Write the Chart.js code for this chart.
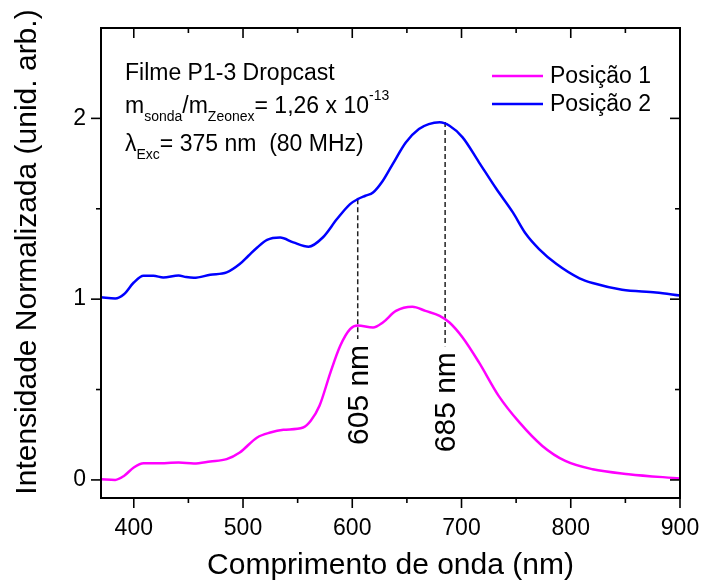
<!DOCTYPE html>
<html>
<head>
<meta charset="utf-8">
<script src="https://cdn.jsdelivr.net/npm/chart.js@4.4.0/dist/chart.umd.min.js"></script>
<style>
  html, body { margin: 0; padding: 0; background: #fff; }
</style>
</head>
<body>
<canvas id="myChart" width="702" height="581"></canvas>
<script>
const FONT = "'Liberation Sans', Arial, sans-serif"

// Posição 1 - wavelength (nm) / normalised intensity
const wl1 = [370, 383, 391, 400, 409, 421, 441, 455, 470, 485, 497, 513, 525, 537, 555, 562, 570, 580, 589, 598, 605, 619, 628, 640, 655, 667, 680, 689, 701, 716, 734, 753, 774, 795, 820, 853, 900]
const pos1 = [0.004, 0, 0.022, 0.069, 0.092, 0.092, 0.096, 0.091, 0.102, 0.115, 0.152, 0.235, 0.262, 0.277, 0.29, 0.327, 0.41, 0.594, 0.742, 0.834, 0.854, 0.843, 0.871, 0.935, 0.958, 0.935, 0.908, 0.871, 0.788, 0.65, 0.465, 0.318, 0.188, 0.105, 0.059, 0.032, 0.008]

// Posição 2 (shifted up by 1)
const wl2 = [370, 383, 391, 400, 409, 418, 427, 441, 448, 455, 470, 485, 497, 505, 513, 522, 534, 546, 560, 573, 586, 598, 605, 612, 619, 628, 637, 649, 661, 670, 680, 689, 701, 716, 732, 747, 759, 771, 787, 808, 820, 847, 878, 900]
const pos2 = [1.01, 1.004, 1.027, 1.092, 1.129, 1.129, 1.12, 1.131, 1.122, 1.118, 1.135, 1.148, 1.194, 1.24, 1.286, 1.328, 1.341, 1.314, 1.29, 1.341, 1.443, 1.526, 1.553, 1.572, 1.59, 1.655, 1.747, 1.867, 1.941, 1.968, 1.978, 1.959, 1.895, 1.757, 1.609, 1.48, 1.36, 1.277, 1.194, 1.115, 1.089, 1.052, 1.037, 1.02]

const xTicks = [400, 450, 500, 550, 600, 650, 700, 750, 800, 850, 900]
const yTicks = [0, 0.5, 1, 1.5, 2]

// marked peaks
const peaks = [605, 685]
const peakLabels = ["605 nm", "685 nm"]
const peakTop = [1.553, 1.98]
const peakBottom = [0.78, 0.74]

function toPoints(xs, ys) {
  return xs.map((x, i) => ({ x: x, y: ys[i] }))
}

function line(ctx, x1, y1, x2, y2) {
  ctx.beginPath()
  ctx.moveTo(x1, y1)
  ctx.lineTo(x2, y2)
  ctx.stroke()
}

// text with sub/superscripts, runs = [text, kind]
function drawRuns(ctx, x, y, runs) {
  runs.forEach(r => {
    const small = r[1] !== ""
    ctx.font = (small ? 14 : 23) + "px " + FONT
    const dy = r[1] === "sub" ? 8 : r[1] === "sup" ? -13 : 0
    ctx.fillText(r[0], x, y + dy)
    x += ctx.measureText(r[0]).width
  })
}

// frame, tick marks (out on bottom/left, in on top/right)
const axisBox = {
  id: "axisBox",
  afterDraw(chart) {
    const { ctx, chartArea: a, scales: { x, y } } = chart
    ctx.save()
    ctx.strokeStyle = "#000"
    ctx.lineWidth = 2
    ctx.strokeRect(a.left, a.top, a.right - a.left, a.bottom - a.top)
    ctx.lineWidth = 1.6
    xTicks.forEach(v => {
      const px = x.getPixelForValue(v)
      const len = v % 100 === 0 ? 10 : 5
      line(ctx, px, a.bottom, px, a.bottom + len)
      line(ctx, px, a.top, px, a.top + len)
    })
    yTicks.forEach(v => {
      const py = y.getPixelForValue(v)
      const len = Number.isInteger(v) ? 10 : 5
      line(ctx, a.left, py, a.left - len, py)
      line(ctx, a.right, py, a.right - len, py)
    })
    ctx.restore()
  }
}

const notes = {
  id: "notes",
  beforeDatasetsDraw(chart) {
    const { ctx, scales: { x, y } } = chart
    ctx.save()
    ctx.strokeStyle = "#222"
    ctx.lineWidth = 1.5
    ctx.setLineDash([5, 3])
    peaks.forEach((p, i) => {
      const px = x.getPixelForValue(p)
      line(ctx, px, y.getPixelForValue(peakTop[i]), px, y.getPixelForValue(peakBottom[i]))
    })
    ctx.restore()
  },
  afterDraw(chart) {
    const { ctx, chartArea: a, scales: { x, y } } = chart
    ctx.save()
    ctx.fillStyle = "#000"

    // peak labels, rotated
    ctx.font = "30px " + FONT
    ctx.textAlign = "right"
    ctx.textBaseline = "middle"
    peaks.forEach((p, i) => {
      ctx.save()
      ctx.translate(x.getPixelForValue(p) + 2, y.getPixelForValue(peakBottom[i]) + 6)
      ctx.rotate(-Math.PI / 2)
      ctx.fillText(peakLabels[i], 0, 0)
      ctx.restore()
    })

    // sample info
    ctx.textAlign = "left"
    ctx.textBaseline = "alphabetic"
    const tx = a.left + 24
    drawRuns(ctx, tx, a.top + 52, [["Filme P1-3 Dropcast", ""]])
    drawRuns(ctx, tx, a.top + 85, [["m", ""], ["sonda", "sub"], ["/m", ""], ["Zeonex", "sub"], ["= 1,26 x 10", ""], ["-13", "sup"]])
    drawRuns(ctx, tx, a.top + 123, [["\u03bb", ""], ["Exc", "sub"], ["= 375 nm  (80 MHz)", ""]])

    // legend
    ctx.font = "23px " + FONT
    ctx.textBaseline = "middle"
    chart.data.datasets.forEach((ds, i) => {
      const ly = a.top + 48 + i * 28
      ctx.strokeStyle = ds.borderColor
      ctx.lineWidth = 2.5
      line(ctx, 492, ly, 543, ly)
      ctx.fillText(ds.label, 550, ly + 1)
    })

    // axis titles
    ctx.font = "30px " + FONT
    ctx.textAlign = "center"
    ctx.textBaseline = "alphabetic"
    ctx.fillText("Comprimento de onda (nm)", (a.left + a.right) / 2, 574)
    ctx.save()
    ctx.translate(36, 252)
    ctx.rotate(-Math.PI / 2)
    ctx.fillText("Intensidade Normalizada (unid. arb.)", 0, 0)
    ctx.restore()

    ctx.restore()
  }
}

const ctx = document.getElementById("myChart").getContext("2d")
const chart = new Chart(ctx, {
  type: "line",
  data: {
    datasets: [{
      label: "Posição 1",
      data: toPoints(wl1, pos1),
      borderColor: "#ff00ff",
      borderWidth: 2.5,
      pointRadius: 0,
      cubicInterpolationMode: "monotone",
      fill: false
    }, {
      label: "Posição 2",
      data: toPoints(wl2, pos2),
      borderColor: "#0000ff",
      borderWidth: 2.5,
      pointRadius: 0,
      cubicInterpolationMode: "monotone",
      fill: false
    }]
  },
  options: {
    responsive: false,
    animation: false,
    layout: { padding: { top: 28, right: 22, left: 0, bottom: 0 } },
    plugins: { legend: { display: false }, tooltip: { enabled: false } },
    scales: {
      x: {
        type: "linear",
        min: 370,
        max: 900,
        afterBuildTicks: s => { s.ticks = xTicks.map(v => ({ value: v })) },
        afterFit: s => {
          s.height = 83
          s.paddingLeft = 0
          s.paddingRight = 0
        },
        grid: { display: false, drawTicks: false },
        border: { display: false },
        ticks: {
          padding: 17,
          color: "#000",
          maxRotation: 0,
          autoSkip: false,
          font: { family: FONT, size: 23 },
          callback: v => v % 100 === 0 ? v : ""
        }
      },
      y: {
        min: -0.1,
        max: 2.5,
        afterBuildTicks: s => { s.ticks = yTicks.map(v => ({ value: v })) },
        afterFit: s => {
          s.width = 101
          s.paddingTop = 0
          s.paddingBottom = 0
        },
        grid: { display: false, drawTicks: false },
        border: { display: false },
        ticks: {
          padding: 15,
          color: "#000",
          font: { family: FONT, size: 23 },
          callback: v => Number.isInteger(v) ? v : ""
        }
      }
    }
  },
  plugins: [axisBox, notes]
})
</script>
</body>
</html>
